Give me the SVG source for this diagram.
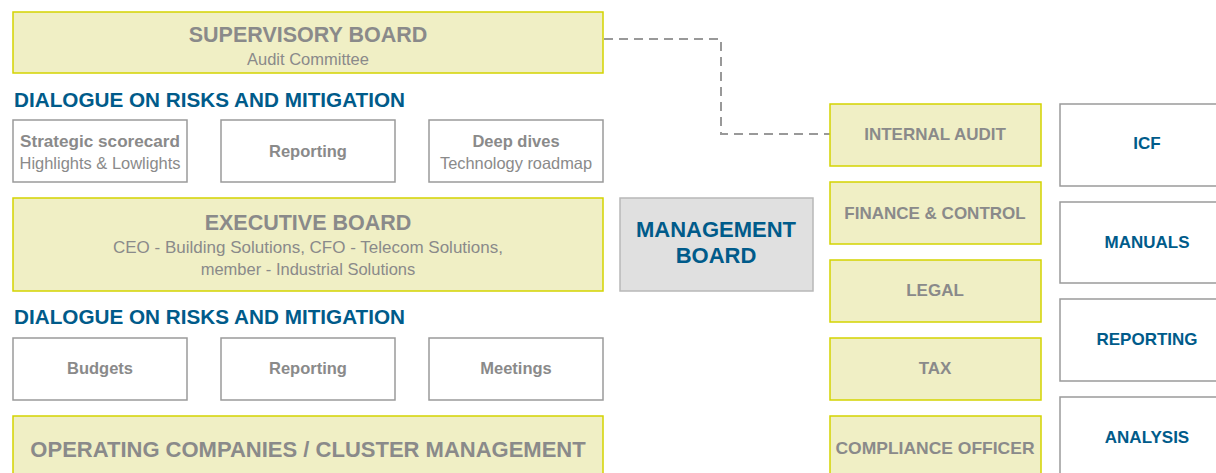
<svg xmlns="http://www.w3.org/2000/svg" width="1216" height="473" viewBox="0 0 1216 473">
<style>
.y{fill:#f0efc5;stroke:#d4d400;stroke-width:1.5}
.w{fill:#fff;stroke:#9a9a9a;stroke-width:1.5}
.g{fill:#e0e0e0;stroke:#b8b8b8;stroke-width:1.5}
text{font-family:"Liberation Sans",Arial,sans-serif;text-anchor:middle}
.gt{fill:#8a8a8a;font-weight:bold}
.gs{fill:#8a8a8a}
.bt{fill:#005b8a;font-weight:bold}
.hd{fill:#005b8a;font-weight:bold;text-anchor:start}
.con{fill:none;stroke:#999;stroke-width:2;stroke-dasharray:9 6}
</style>
<rect width="1216" height="473" fill="#fff"/>
<g id="connectors">
<path class="con" d="M604,39 H721 V134 H830"/>
</g>
<g id="supervisory">
<rect class="y" x="13" y="12" width="590" height="61"/>
<text class="gt" x="308" y="42" font-size="21.5">SUPERVISORY BOARD</text>
<text class="gs" x="308" y="65" font-size="16.5">Audit Committee</text>
</g>
<g id="heading1"><text class="hd" x="14" y="107" font-size="19.5" textLength="391" lengthAdjust="spacingAndGlyphs">DIALOGUE ON RISKS AND MITIGATION</text></g>
<g id="scorecard">
<rect class="w" x="13" y="120" width="174" height="62"/>
<text class="gt" x="100" y="147" font-size="16.5" textLength="160" lengthAdjust="spacingAndGlyphs">Strategic scorecard</text>
<text class="gs" x="100" y="169" font-size="16.5" textLength="161" lengthAdjust="spacingAndGlyphs">Highlights &amp; Lowlights</text>
</g>
<g id="reporting1">
<rect class="w" x="221" y="120" width="174" height="62"/>
<text class="gt" x="308" y="157" font-size="16.5">Reporting</text>
</g>
<g id="deepdives">
<rect class="w" x="429" y="120" width="174" height="62"/>
<text class="gt" x="516" y="147" font-size="16.5">Deep dives</text>
<text class="gs" x="516" y="169" font-size="16.5" textLength="152" lengthAdjust="spacingAndGlyphs">Technology roadmap</text>
</g>
<g id="executive">
<rect class="y" x="13" y="198" width="590" height="93"/>
<text class="gt" x="308" y="230" font-size="21.5">EXECUTIVE BOARD</text>
<text class="gs" x="308" y="253" font-size="16.5" textLength="390" lengthAdjust="spacingAndGlyphs">CEO - Building Solutions, CFO - Telecom Solutions,</text>
<text class="gs" x="308" y="275" font-size="16.5">member - Industrial Solutions</text>
</g>
<g id="heading2"><text class="hd" x="14" y="324" font-size="19.5" textLength="391" lengthAdjust="spacingAndGlyphs">DIALOGUE ON RISKS AND MITIGATION</text></g>
<g id="budgets">
<rect class="w" x="13" y="338" width="174" height="62"/>
<text class="gt" x="100" y="374" font-size="16.5">Budgets</text>
</g>
<g id="reporting2">
<rect class="w" x="221" y="338" width="174" height="62"/>
<text class="gt" x="308" y="374" font-size="16.5">Reporting</text>
</g>
<g id="meetings">
<rect class="w" x="429" y="338" width="174" height="62"/>
<text class="gt" x="516" y="374" font-size="16.5">Meetings</text>
</g>
<g id="operating">
<rect class="y" x="13" y="416" width="590" height="70"/>
<text class="gt" x="308" y="457" font-size="22">OPERATING COMPANIES / CLUSTER MANAGEMENT</text>
</g>
<g id="management">
<rect class="g" x="620" y="198" width="193" height="93"/>
<text class="bt" x="716" y="237" font-size="22">MANAGEMENT</text>
<text class="bt" x="716" y="263" font-size="22">BOARD</text>
</g>
<g id="internalaudit">
<rect class="y" x="830" y="104" width="211" height="62"/>
<text class="gt" x="935" y="140" font-size="17">INTERNAL AUDIT</text>
</g>
<g id="finance">
<rect class="y" x="830" y="182" width="211" height="62"/>
<text class="gt" x="935" y="219" font-size="17">FINANCE &amp; CONTROL</text>
</g>
<g id="legal">
<rect class="y" x="830" y="260" width="211" height="62"/>
<text class="gt" x="935" y="296" font-size="17">LEGAL</text>
</g>
<g id="tax">
<rect class="y" x="830" y="338" width="211" height="62"/>
<text class="gt" x="935" y="374" font-size="17">TAX</text>
</g>
<g id="compliance">
<rect class="y" x="830" y="416" width="211" height="70"/>
<text class="gt" x="935" y="454" font-size="17" textLength="199" lengthAdjust="spacingAndGlyphs">COMPLIANCE OFFICER</text>
</g>
<g id="icf">
<rect class="w" x="1060" y="104" width="170" height="82"/>
<text class="bt" x="1147" y="149" font-size="17">ICF</text>
</g>
<g id="manuals">
<rect class="w" x="1060" y="202" width="170" height="81"/>
<text class="bt" x="1147" y="248" font-size="17">MANUALS</text>
</g>
<g id="reporting3">
<rect class="w" x="1060" y="299" width="170" height="82"/>
<text class="bt" x="1147" y="345" font-size="17">REPORTING</text>
</g>
<g id="analysis">
<rect class="w" x="1060" y="397" width="170" height="82"/>
<text class="bt" x="1147" y="443" font-size="17">ANALYSIS</text>
</g>
</svg>
